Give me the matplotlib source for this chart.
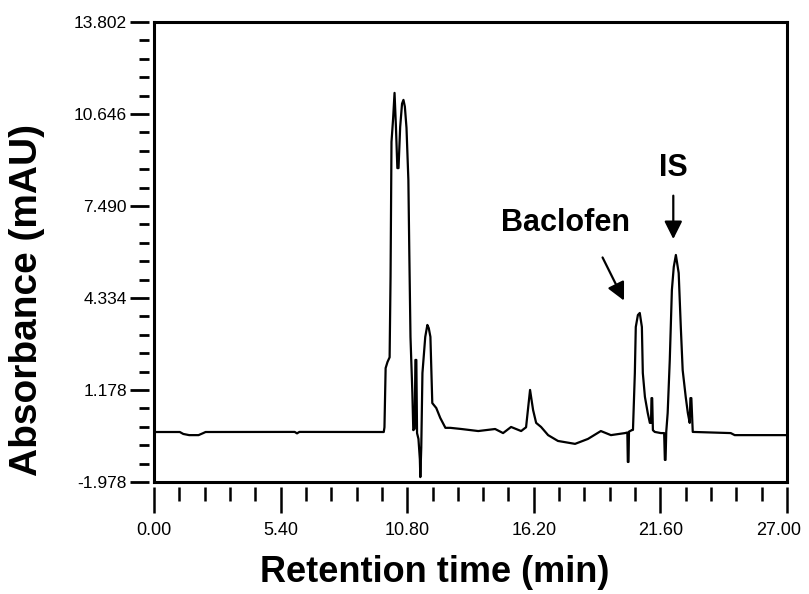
import numpy as np
import matplotlib
matplotlib.use("Agg")
import matplotlib.pyplot as plt
import matplotlib.transforms as mtransforms
from matplotlib.ticker import FixedLocator, AutoMinorLocator, FormatStrFormatter

# chromatogram trace (time in min, absorbance in mAU)
time = [0.00, 1.10, 1.25, 1.50, 1.90, 2.10, 2.20, 6.00, 6.10, 6.20, 9.80, 9.83, 9.88, 9.96,
        10.05, 10.09, 10.13, 10.20, 10.26, 10.32, 10.38, 10.43, 10.50, 10.58, 10.64, 10.70,
        10.77, 10.85, 10.89, 10.94, 11.02, 11.06, 11.12, 11.15, 11.19, 11.22, 11.28, 11.34,
        11.36, 11.40, 11.45, 11.57, 11.66, 11.72, 11.79, 11.87, 12.04, 12.21, 12.43, 12.64,
        13.11, 13.83, 14.55, 14.89, 15.23, 15.66, 15.87, 16.04, 16.17, 16.30, 16.51, 16.81,
        17.23, 17.96, 18.51, 19.06, 19.49, 20.09, 20.19, 20.21, 20.24, 20.26, 20.38, 20.43,
        20.51, 20.55, 20.64, 20.72, 20.81, 20.85, 20.94, 21.06, 21.15, 21.20, 21.22, 21.25,
        21.28, 21.36, 21.62, 21.76, 21.79, 21.82, 21.85, 21.91, 22.00, 22.09, 22.17, 22.26,
        22.38, 22.47, 22.55, 22.68, 22.77, 22.85, 22.88, 22.92, 22.98, 24.60, 24.77, 27.00]
absorbance = [-0.263, -0.263, -0.33, -0.37, -0.37, -0.30, -0.263, -0.26, -0.31, -0.26, -0.263,
              -0.10, 1.93, 2.14, 2.30, 5.06, 9.69, 10.50, 11.37, 10.20, 8.79, 8.79, 10.20,
              11.00, 11.13, 10.90, 10.17, 8.38, 5.88, 3.00, 1.08, -0.20, -0.15, 2.21, 2.21,
              -0.30, -0.50, -1.20, -1.81, -0.80, 1.76, 3.00, 3.41, 3.30, 3.00, 0.73, 0.56,
              0.22, -0.12, -0.12, -0.16, -0.23, -0.16, -0.30, -0.09, -0.23, -0.10, 1.18, 0.49,
              0.05, -0.09, -0.37, -0.57, -0.67, -0.50, -0.23, -0.37, -0.30, -0.28, -1.29,
              -1.29, -0.25, -0.20, -0.19, 1.76, 3.34, 3.75, 3.82, 3.34, 1.76, 0.94, 0.39,
              0.05, 0.05, 0.90, 0.90, -0.20, -0.26, -0.30, -0.30, -1.22, -1.22, -0.25, 0.39,
              2.21, 4.61, 5.40, 5.81, 5.19, 3.34, 1.86, 0.94, 0.39, 0.05, 0.90, 0.90, -0.26,
              -0.30, -0.37, -0.37]

xticks = [0.00, 5.40, 10.80, 16.20, 21.60, 27.00]
yticks = [-1.978, 1.178, 4.334, 7.490, 10.646, 13.802]

# peak labels: text position and arrow tip
labels = ["Baclofen", "IS"]
label_xy = [(17.55, 6.91), (22.15, 8.79)]
arrow_start = [(19.08, 5.81), (22.15, 7.94)]
arrow_tip = [(20.10, 4.16), (22.15, 6.26)]

W, H = 809, 594
fig = plt.figure(figsize=(W / 100, H / 100), dpi=100)
ax = fig.add_axes([154 / W, (H - 482) / H, (787 - 154) / W, (482 - 22) / H])

ax.plot(time, absorbance, color="black", lw=1.6)
ax.set_xlim(0, 27.0)
ax.set_ylim(-1.978, 13.802)

for s in ax.spines.values():
    s.set_linewidth(2.2)
ax.tick_params(left=False, bottom=False, labelleft=False, labelbottom=False,
               which="both")

# ticks sit a few pixels away from the frame
secx = ax.secondary_xaxis(-5 / 460)
secx.spines["bottom"].set_visible(False)
secx.xaxis.set_major_locator(FixedLocator(xticks))
secx.xaxis.set_minor_locator(AutoMinorLocator(5))
secx.xaxis.set_major_formatter(FormatStrFormatter("%.2f"))
secx.tick_params(which="major", direction="out", length=19, width=1.8, pad=6)
secx.tick_params(which="minor", direction="out", length=10, width=1.8)
xlabs = secx.get_xticklabels()
for lab in xlabs:
    lab.set_family("Liberation Sans")
    lab.set_fontsize(13)
# keep the last label inside the picture
shift = mtransforms.ScaledTranslation(-8 / 100, 0, fig.dpi_scale_trans)
xlabs[-1].set_transform(xlabs[-1].get_transform() + shift)

secy = ax.secondary_yaxis(-5 / 633)
secy.spines["left"].set_visible(False)
secy.yaxis.set_major_locator(FixedLocator(yticks))
secy.yaxis.set_minor_locator(AutoMinorLocator(5))
secy.yaxis.set_major_formatter(FormatStrFormatter("%.3f"))
secy.tick_params(which="major", direction="out", length=14, width=2.0, pad=2)
secy.tick_params(which="minor", direction="out", length=7, width=2.0)
for lab in secy.get_yticklabels():
    lab.set_family("Liberation Sans")
    lab.set_fontsize(12.5)

for name, txy, s, t in zip(labels, label_xy, arrow_start, arrow_tip):
    ax.text(txy[0], txy[1], name, ha="center", va="center", fontsize=22,
            fontweight="bold", family="Liberation Sans")
    ax.annotate("", xy=t, xytext=s,
                arrowprops=dict(arrowstyle="-|>", color="black", lw=1.6,
                                mutation_scale=27))

fig.text(27 / W, (H - 300) / H, "Absorbance (mAU)", rotation=90, ha="center",
         va="center", fontsize=28, fontweight="bold", family="Liberation Sans")
fig.text(435 / W, (H - 572) / H, "Retention time (min)", ha="center", va="center",
         fontsize=26, fontweight="bold", family="Liberation Sans")

fig.savefig("out.png", dpi=100)
